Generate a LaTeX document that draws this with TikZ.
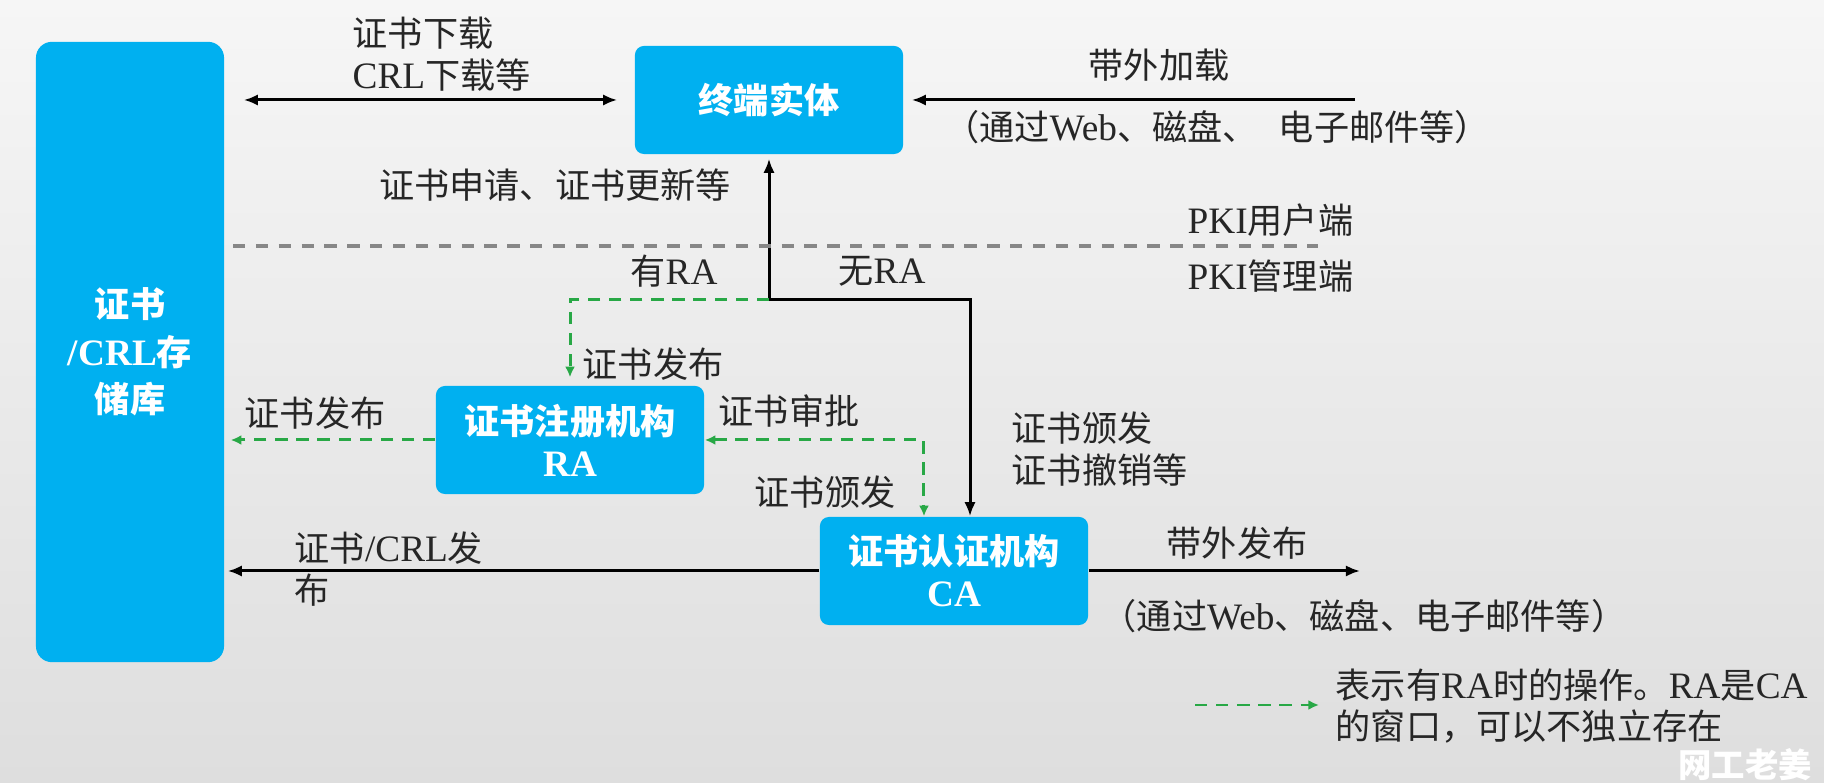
\documentclass[tikz,border=0pt]{standalone}
\usepackage{fontspec}
\setmainfont{Noto Sans CJK SC}
\newfontfamily\latnfont[Scale=1.06]{Liberation Serif}
\newcommand{\latn}[1]{{\latnfont #1}}
\usetikzlibrary{arrows.meta}
\definecolor{boxblue}{RGB}{0,176,240}
\definecolor{ragreen}{RGB}{40,168,70}
\definecolor{divgray}{RGB}{135,135,135}
\definecolor{bgtop}{RGB}{246,246,246}
\definecolor{bgbot}{RGB}{222,222,222}

\begin{document}
\begin{tikzpicture}[
		x=0.01cm, y=-0.01cm,
		>={Latex[length=4pt,width=3.2pt]},
		every node/.style={font=\fontsize{10pt}{12pt}\selectfont},
		box/.style={
			fill=boxblue,
			rounded corners=0.09cm,
			text=white,
			font=\bfseries\fontsize{10pt}{12pt}\selectfont,
			align=center,
			minimum width=2.68cm,
			minimum height=1.08cm
		},
		note/.style={inner sep=0pt, align=left, text=black!85},
		flow/.style={line width=0.85pt},
		raflow/.style={
			ragreen,
			line width=0.85pt,
			dash pattern=on 3.5pt off 2.5pt,
			>={Latex[length=3pt,width=2.8pt]}
		},
		divider/.style={divgray, line width=0.9pt, dash pattern=on 3.5pt off 3pt}
		]
		
		\useasboundingbox (0,0) rectangle (1824,783);
		\shade[top color=bgtop, bottom color=bgbot] (0,0) rectangle (1824,783);
		
		% boxes
		\node[box, rounded corners=0.16cm, minimum width=1.88cm, minimum height=6.2cm,
			font=\bfseries\fontsize{10pt}{13.5pt}\selectfont] (repo) at (130,352) {证书\\\latn{/CRL}存\\储库};
		\node[box] (ee) at (769,100) {终端实体};
		\node[box] (ra) at (570,440) {证书注册机构\\\latn{RA}};
		\node[box] (ca) at (954,571) {证书认证机构\\\latn{CA}};
		
		% free ends
		\coordinate (split) at (769,300);
		\coordinate (oobin) at (1355,100);
		\coordinate (oobout) at (1360,571);
		\coordinate (divl) at (233,246);
		\coordinate (divr) at (1318,246);
		\coordinate (keyl) at (1195,705);
		\coordinate (keyr) at (1319,705);
		
		% connectors
		\draw[flow, <->, shorten <=0.19cm, shorten >=0.17cm] (repo.east |- ee.west) -- (ee.west);
		\draw[flow, ->, shorten >=0.08cm] (oobin) -- (ee.east);
		\draw[flow, <->, shorten <=0.04cm] (ee.south) -- (split) -| ([xshift=0.16cm]ca.north);
		\draw[raflow, ->, shorten >=0.08cm] (split) -| (ra.north);
		\draw[raflow, <->] (ra.east) -| ([xshift=-0.3cm]ca.north);
		\draw[raflow, ->, shorten >=0.06cm] (ra.west) -- (repo.east |- ra.west);
		\draw[flow, ->, shorten >=0.03cm] (ca.west) -- (repo.east |- ca.west);
		\draw[flow, ->] (ca.east) -- (oobout);
		\draw[divider] (divl) -- (divr);
		\draw[raflow, ->] (keyl) -- (keyr);
		
		% labels
		\node[note, anchor=west] (dltext) at (352,54) {证书下载\\\latn{CRL}下载等};
		\node[note] (oobintop) at (1159,65) {带外加载};
		\node[note] (oobinbot) at (1217,127) {（通过\latn{Web}、磁盘、\hspace{0.6em}电子邮件等）};
		\node[note] (reqtext) at (555,185) {证书申请、证书更新等};
		\node[note, anchor=east] (usrside) at (1354,220) {\latn{PKI}用户端};
		\node[note, anchor=east] (mgrside) at (1354,276) {\latn{PKI}管理端};
		\node[note] (withra) at (674,271) {有\latn{RA}};
		\node[note] (nora) at (882,271) {无\latn{RA}};
		\node[note, anchor=west] (rapub) at (582,364) {证书发布};
		\node[note, anchor=west] (raok) at (718,411) {证书审批};
		\node[note] (caissue) at (825,492) {证书颁发};
		\node[note, anchor=west] (repopub) at (244,413) {证书发布};
		\node[note, anchor=west] (crlpub) at (294,569) {证书\latn{/CRL}发\\布};
		\node[note, anchor=west] (catext) at (1011,449) {证书颁发\\证书撤销等};
		\node[note] (oobouttop) at (1237,543) {带外发布};
		\node[note] (ooboutbot) at (1364,616) {（通过\latn{Web}、磁盘、电子邮件等）};
		\node[note, anchor=west, font=\fontsize{10pt}{11.5pt}\selectfont] (keytext) at (1335,706) {表示有\latn{RA}时的操作。\latn{RA}是\latn{CA}\\的窗口，可以不独立存在};
		\node[inner sep=0pt, text=white, font=\bfseries\fontsize{9.5pt}{10pt}\selectfont] (mark) at (1745,765) {网工老姜};
		
	\end{tikzpicture}
\end{document}
